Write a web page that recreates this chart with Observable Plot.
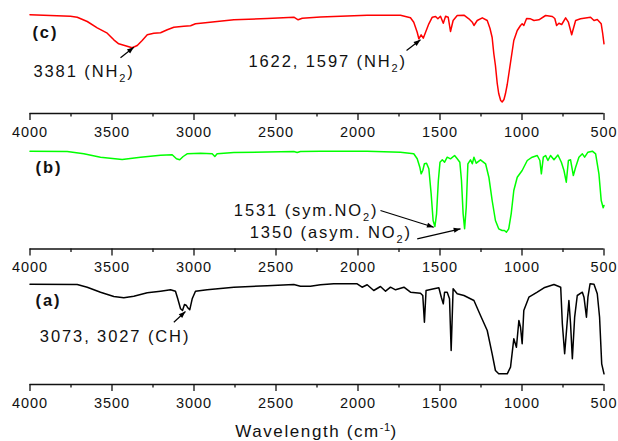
<!DOCTYPE html>
<html>
<head>
<meta charset="utf-8">
<script src="https://cdn.jsdelivr.net/npm/d3@7"></script>
<script src="https://cdn.jsdelivr.net/npm/@observablehq/plot@0.6"></script>
<style>
  html, body { margin: 0; padding: 0; background: #fff; }
  #wrap { width: 618px; height: 441px; position: relative; overflow: hidden; font-family: "Liberation Sans", Arial, sans-serif; }
  #wrap svg { display: block; }
  #xlabel { position: absolute; left: 29.5px; width: 574px; top: 422px; text-align: center; font-size: 17px; line-height: 20px; letter-spacing: 1.6px; color: #111; }
  #xlabel sup { font-size: 11px; line-height: 0; vertical-align: 6px; letter-spacing: 0.5px; }
  g[aria-label="text"] text { letter-spacing: 1.9px; }
  g[aria-label="x-axis tick label"] text { letter-spacing: 0.9px; }
</style>
</head>
<body>
<div id="wrap"><div id="xlabel">Wavelength (cm<sup>-1</sup>)</div></div>
<script>
// ---- Data ----
const panels = ["c", "b", "a"];
const panelLabels = ["(c)", "(b)", "(a)"];
const majorTicks = [4000, 3500, 3000, 2500, 2000, 1500, 1000, 500];
const minorTicks = [3750, 3250, 2750, 2250, 1750, 1250, 750];

// (c) red spectrum
const wavenumberC = [4000,3753,3712,3651,3590,3529,3489,3459,3418,3377,3346,3316,3285,3245,3204,3163,3123,3062,3021,2991,2960,2859,2757,2554,2391,2365,2340,2229,2107,1944,1741,1680,1660,1639,1629,1615,1602,1588,1568,1547,1527,1513,1497,1480,1466,1450,1436,1420,1395,1354,1324,1303,1293,1273,1242,1212,1195,1182,1172,1162,1151,1142,1130,1121,1110,1101,1090,1070,1050,1029,1009,999,989,972,948,927,897,856,815,800,789,775,758,734,717,697,690,673,643,582,561,541,517,508,500];
const transmittanceC = [98.7,97.3,96.3,92,85.7,80.3,73.7,69.7,67.7,65.7,68,73,78.7,80.3,80.7,83.7,86.3,87.3,87.7,89.7,90.3,92,93.7,95,96.3,93.7,95.3,96.5,97.3,98.3,98.3,95.7,91.3,81.3,74.7,78.7,75.3,81.3,89.7,96.3,97,94.7,97.3,90.3,97.3,96.3,82,93,98,98.3,94.7,91.3,88,93,95.7,93,85,76,60,48,30,20,13,11.5,14,19.7,29,51,73,83,88,89.7,88,95,94.7,93,93.7,98,97,95,88,90.3,89,95.7,91.3,78.7,83,93,94.7,96.3,93,94,89.7,80,69.7];

// (b) green spectrum
const wavenumberB = [4000,3773,3672,3570,3438,3326,3204,3133,3107,3087,3066,3042,2960,2889,2873,2859,2757,2391,2371,2351,2229,1944,1741,1660,1639,1623,1615,1605,1595,1582,1568,1554,1542,1531,1521,1510,1500,1486,1472,1456,1436,1411,1395,1379,1369,1359,1350,1340,1330,1314,1303,1293,1279,1253,1222,1202,1182,1162,1142,1121,1107,1095,1081,1066,1050,1029,999,968,938,907,891,882,870,856,842,826,805,781,760,744,730,717,704,687,673,653,632,618,598,571,551,531,517,505,500];
const transmittanceB = [97.8,97.5,95.2,91.8,89.5,91.8,93.8,94.2,90.2,89.2,92.5,95.2,95.8,95.2,92.5,95.2,96.5,97.5,96.5,97.5,97.8,97.8,96.8,95.2,90.2,81.8,75.2,78.5,85.2,85.8,80.2,55.2,28.5,22.5,35.2,68.5,86.8,89.2,86.8,91.8,90.2,93.5,90.2,86.8,68.5,35.2,20.2,41.8,85.2,89.2,85.2,91.8,85.8,89.2,85.2,71.8,48.5,28.5,20.2,18.5,18.5,16.8,20.2,35.2,58.5,71.8,78.5,88.5,91.8,93.5,88.5,75.2,91.8,93.5,88.5,93.5,89.2,94,86.8,78.5,66.8,88.5,89.2,73.5,81.8,91.8,95.2,91.8,96.8,97.8,95.2,75.2,48.5,41.2,43.5];

// (a) black spectrum
const wavenumberA = [4000,3712,3651,3570,3489,3428,3367,3285,3204,3143,3113,3099,3082,3070,3058,3046,3038,3026,3011,2991,2920,2757,2554,2391,2351,2290,2229,2148,2005,1975,1944,1904,1863,1832,1802,1771,1720,1680,1619,1605,1595,1585,1537,1507,1492,1480,1472,1456,1442,1432,1420,1395,1354,1293,1253,1212,1182,1162,1142,1090,1070,1050,1034,1019,1009,999,989,958,907,866,805,775,764,754,740,727,714,704,693,679,663,632,622,607,598,585,561,541,527,514,500];
const transmittanceA = [100.3,100,97.3,92.3,88,86.7,88.3,91.7,93.3,94.7,93.3,85.7,75.7,74,80,79,76.7,74.7,85.7,93.3,94.7,97.3,98.7,100,98.3,98.3,99.7,100.7,100.7,97.3,99.7,94,98,93.3,97.3,94.7,97.3,92.3,91.3,89,62.3,94,95.7,96.7,87.3,80.7,92.3,92.3,85.7,34,95.7,90.7,89,84,69,54,30.7,14,10.7,10.7,17.3,45.7,37.3,64,57.3,40.7,74,87.3,92.3,96.7,100,98,97.3,60.7,30.7,57.3,84,60.7,25.7,67.3,89,92.3,87.3,67.3,87.3,100.7,100.3,90.7,67.3,20.7,10.7];

// annotations
const noteText  = ["3381 (NH₂)", "1622, 1597 (NH₂)", "1531 (sym.NO₂)", "1350 (asym. NO₂)", "3073, 3027 (CH)"];
const notePanel = ["c", "c", "b", "b", "a"];
const noteW     = [3979, 2668, 2757, 2660, 3940];
const noteV     = [42, 51.4, 38.6, 16.3, 47.4];

const arrowPanel = ["c", "c", "b", "b", "a"];
const arrowW1 = [3448, 1704, 1863, 1639, 3123];
const arrowV1 = [55.7, 63, 38.5, 10.2, 62.3];
const arrowW2 = [3367, 1619, 1538, 1375, 3052];
const arrowV2 = [66.3, 73.7, 21.8, 20.2, 73];

const labelW = [3985, 3966, 3966];
const labelV = [81, 81.6, 83.6];

// ---- Build tables ----
const toRows = (ws, vs, panel) => ws.map((w, i) => ({w, v: vs[i], panel}));
const specC = toRows(wavenumberC, transmittanceC, "c");
const specB = toRows(wavenumberB, transmittanceB, "b");
const specA = toRows(wavenumberA, transmittanceA, "a");
const notes = noteText.map((t, i) => ({text: t, panel: notePanel[i], w: noteW[i], v: noteV[i]}));
const arrows = arrowPanel.map((p, i) => ({panel: p, w1: arrowW1[i], v1: arrowV1[i], w2: arrowW2[i], v2: arrowV2[i]}));
const labels = panels.map((p, i) => ({panel: p, text: panelLabels[i], w: labelW[i], v: labelV[i]}));

const chart = Plot.plot({
  width: 618,
  height: 410,
  marginLeft: 29.5,
  marginRight: 14.5,
  marginTop: 8,
  marginBottom: 26,
  style: {fontFamily: "'Liberation Sans', Arial, sans-serif", background: "#fff", color: "#111"},
  x: {domain: [4000, 500]},
  y: {domain: [0, 105], axis: null},
  fy: {domain: panels, axis: null, paddingInner: 0.2251, paddingOuter: 0, align: 0, round: false},
  marks: [
    Plot.ruleY([0], {stroke: "#111", strokeWidth: 1.3}),
    Plot.axisX(majorTicks, {anchor: "bottom", facetAnchor: null, tickSize: 7, tickPadding: 6, strokeWidth: 1.3, stroke: "#111", fill: "#111", fontSize: 14.5, tickFormat: d3.format("d"), label: null}),
    Plot.axisX(minorTicks, {anchor: "bottom", facetAnchor: null, tickSize: 3.5, strokeWidth: 1.3, stroke: "#111", tickFormat: () => "", label: null}),
    Plot.line(specC, {x: "w", y: "v", fy: "panel", stroke: "#ff0000", strokeWidth: 1.5}),
    Plot.line(specB, {x: "w", y: "v", fy: "panel", stroke: "#00ff00", strokeWidth: 1.5}),
    Plot.line(specA, {x: "w", y: "v", fy: "panel", stroke: "#000000", strokeWidth: 1.5}),
    Plot.link(arrows, {x1: "w1", y1: "v1", x2: "w2", y2: "v2", fy: "panel", stroke: "#000", strokeWidth: 1.2, markerEnd: "arrow"}),
    Plot.text(notes, {x: "w", y: "v", fy: "panel", text: "text", textAnchor: "start", fontSize: 16.5, fill: "#111"}),
    Plot.text(labels, {x: "w", y: "v", fy: "panel", text: "text", textAnchor: "start", fontSize: 16.5, fontWeight: "bold", fill: "#111"})
  ]
});

const wrap = document.getElementById("wrap");
wrap.insertBefore(chart, wrap.firstChild);

// filled arrowheads
chart.querySelectorAll("marker").forEach(m => {
  m.setAttribute("viewBox", "-9 -5 10 10");
  m.setAttribute("fill", "#000");
  m.setAttribute("stroke", "none");
  m.querySelectorAll("path").forEach(p => {
    p.setAttribute("d", "M-8.5,-3.2L0,0L-8.5,3.2Z");
    p.setAttribute("fill", "#000");
    p.setAttribute("stroke", "none");
  });
});

// subscripts
const NS = "http://www.w3.org/2000/svg";
chart.querySelectorAll("text").forEach(t => {
  const s = t.textContent;
  if (!s.includes("₂")) return;
  const [before, after] = s.split("₂");
  while (t.firstChild) t.removeChild(t.firstChild);
  t.appendChild(document.createTextNode(before));
  const sub = document.createElementNS(NS, "tspan");
  sub.setAttribute("dy", "5");
  sub.setAttribute("font-size", "11");
  sub.textContent = "2";
  t.appendChild(sub);
  const rest = document.createElementNS(NS, "tspan");
  rest.setAttribute("dy", "-5");
  rest.textContent = after;
  t.appendChild(rest);
});
</script>
</body>
</html>
